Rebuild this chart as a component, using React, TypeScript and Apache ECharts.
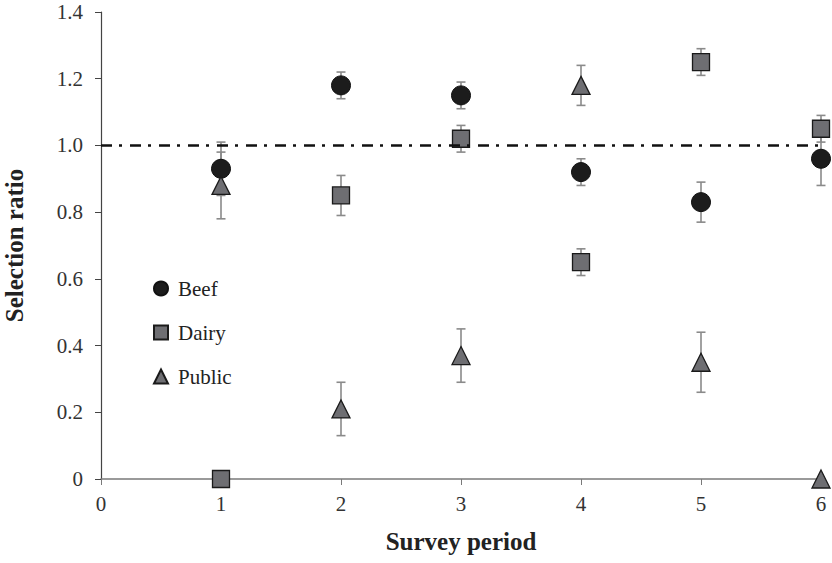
import React, { useEffect, useRef } from "react";
import * as echarts from "echarts";

const periods = [1, 2, 3, 4, 5, 6];
const beefMean = [0.93, 1.18, 1.15, 0.92, 0.83, 0.96];
const beefErr = [0.08, 0.04, 0.04, 0.04, 0.06, 0.08];
const dairyMean = [0, 0.85, 1.02, 0.65, 1.25, 1.05];
const dairyErr = [0, 0.06, 0.04, 0.04, 0.04, 0.04];
const publicMean = [0.88, 0.21, 0.37, 1.18, 0.35, 0];
const publicErr = [0.1, 0.08, 0.08, 0.06, 0.09, 0];
const referenceLine = 1.0;

const FONT = "Liberation Serif";

function errData(mean: number[], err: number[]) {
  return periods
    .map((p, i) => [p, mean[i] - err[i], mean[i] + err[i]])
    .filter((d) => d[2] - d[1] > 0);
}

function errSeries(mean: number[], err: number[]) {
  return {
    type: "custom",
    z: 1,
    silent: true,
    encode: { x: 0, y: [1, 2] },
    data: errData(mean, err),
    renderItem: (params: any, api: any) => {
      const x = api.value(0);
      const lo = api.coord([x, api.value(1)]);
      const hi = api.coord([x, api.value(2)]);
      const hw = 4.5;
      const style = { stroke: "#8a8a8a", lineWidth: 1.6 };
      return {
        type: "group",
        children: [
          { type: "line", shape: { x1: lo[0], y1: lo[1], x2: hi[0], y2: hi[1] }, style },
          { type: "line", shape: { x1: lo[0] - hw, y1: lo[1], x2: lo[0] + hw, y2: lo[1] }, style },
          { type: "line", shape: { x1: hi[0] - hw, y1: hi[1], x2: hi[0] + hw, y2: hi[1] }, style },
        ],
      };
    },
  };
}

export default function App() {
  const ref = useRef<HTMLDivElement>(null);
  useEffect(() => {
    if (!ref.current) return;
    const chart = echarts.init(ref.current, null, { renderer: "svg" });
    const pts = (m: number[]) => periods.map((p, i) => [p, m[i]]);
    chart.setOption({
      animation: false,
      backgroundColor: "#ffffff",
      grid: { left: 101, right: 11, top: 12, bottom: 84, outerBoundsMode: "none", containLabel: false },
      legend: {
        orient: "vertical",
        left: 148,
        top: 273,
        itemGap: 23,
        itemWidth: 14,
        itemHeight: 14,
        textStyle: { fontFamily: FONT, fontSize: 21, color: "#222", padding: [0, 0, 0, 5] },
        data: ["Beef", "Dairy", "Public"],
      },
      xAxis: {
        type: "value",
        min: 0,
        max: 6,
        interval: 1,
        name: "Survey period",
        nameLocation: "middle",
        nameGap: 50,
        nameTextStyle: { fontFamily: FONT, fontSize: 25, fontWeight: "bold", color: "#222" },
        axisLine: { onZero: false, lineStyle: { color: "#7a7a7a", width: 1.5 } },
        axisTick: { show: true, inside: false, length: 6, lineStyle: { color: "#7a7a7a" } },
        axisLabel: { fontFamily: FONT, fontSize: 21, color: "#333", margin: 14 },
        splitLine: { show: false },
      },
      yAxis: {
        type: "value",
        min: 0,
        max: 1.4,
        interval: 0.2,
        name: "Selection ratio",
        nameLocation: "middle",
        nameGap: 74,
        nameTextStyle: { fontFamily: FONT, fontSize: 25, fontWeight: "bold", color: "#222" },
        axisLine: { show: true, lineStyle: { color: "#444", width: 1.2 } },
        axisTick: { show: true, inside: false, length: 6, lineStyle: { color: "#444" } },
        axisLabel: {
          fontFamily: FONT,
          fontSize: 21,
          color: "#333",
          margin: 18,
          formatter: (v: number) => (v === 0 ? "0" : v.toFixed(1)),
        },
        splitLine: { show: false },
      },
      series: [
        errSeries(beefMean, beefErr),
        errSeries(dairyMean, dairyErr),
        errSeries(publicMean, publicErr),
        {
          name: "Beef",
          type: "scatter",
          z: 3,
          symbol: "circle",
          symbolSize: 19,
          itemStyle: { color: "#1c1c1c", borderColor: "#111", borderWidth: 1, opacity: 1 },
          data: pts(beefMean),
          markLine: {
            silent: true,
            symbol: "none",
            label: { show: false },
            lineStyle: { color: "#111", width: 2.6, type: [11, 7, 3, 8] },
            data: [{ yAxis: referenceLine }],
          },
        },
        {
          name: "Dairy",
          type: "scatter",
          z: 3,
          symbol: "rect",
          symbolSize: 17,
          itemStyle: { color: "#6e6e72", borderColor: "#1a1a1a", borderWidth: 1.3, opacity: 1 },
          data: pts(dairyMean),
        },
        {
          name: "Public",
          type: "scatter",
          z: 3,
          symbol: "triangle",
          symbolSize: 18,
          itemStyle: { color: "#6e6e72", borderColor: "#1a1a1a", borderWidth: 1.3, opacity: 1 },
          data: pts(publicMean),
        },
      ],
    });
    return () => chart.dispose();
  }, []);
  return (
    <div
      ref={ref}
      style={{ position: "fixed", left: 0, top: 0, width: 832, height: 563 }}
    />
  );
}
